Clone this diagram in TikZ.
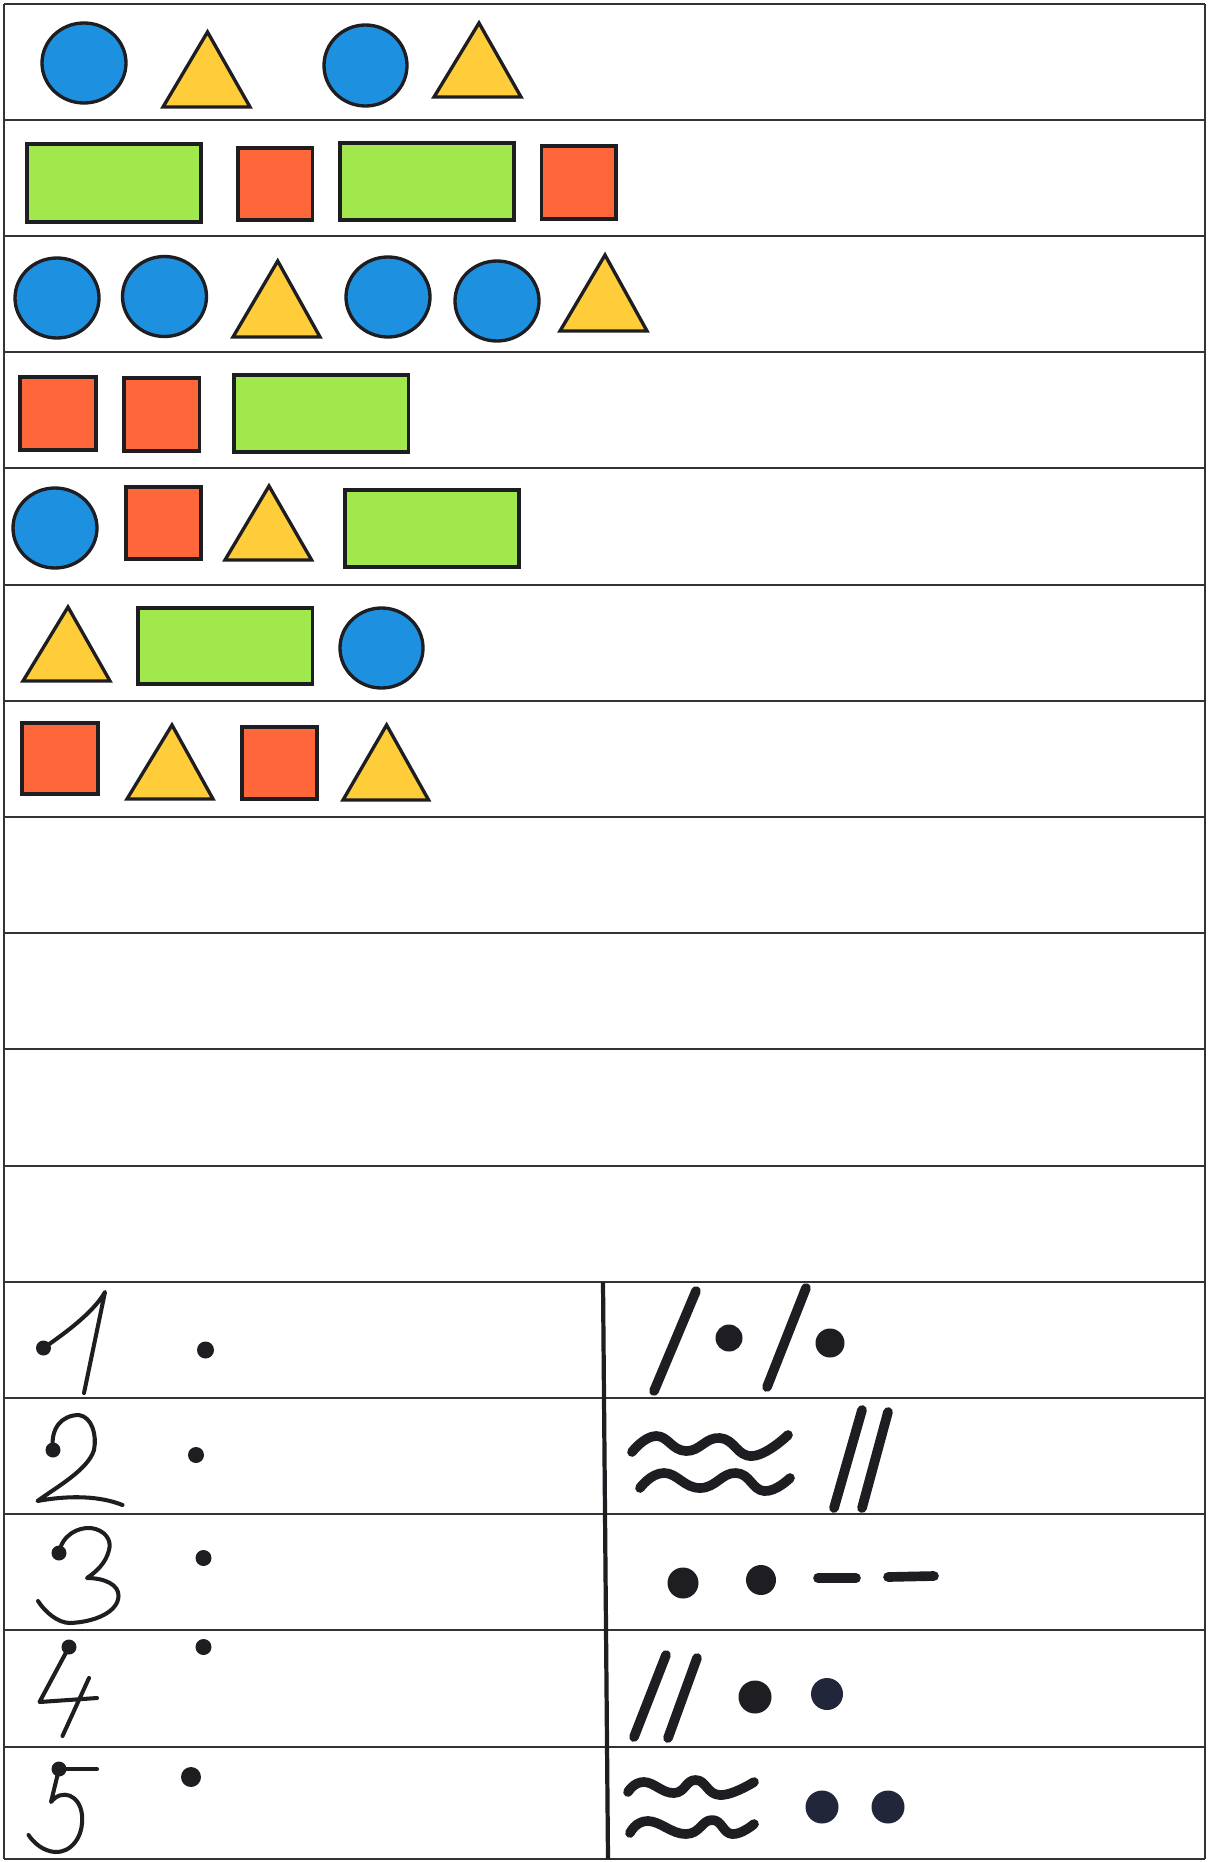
\documentclass[tikz,border=0pt]{standalone}
\usepackage{tikz}
\definecolor{shblue}{HTML}{1E90E0}
\definecolor{shyellow}{HTML}{FFCC3A}
\definecolor{shgreen}{HTML}{A0E84C}
\definecolor{shred}{HTML}{FF663A}
\definecolor{rule}{HTML}{333333}
\definecolor{ink}{HTML}{1E1E22}
\definecolor{inkb}{HTML}{22263A}
\tikzset{
  outl/.style={draw=ink,line width=1.9pt,line join=miter},
  bluesh/.style={outl,fill=shblue},
  yelsh/.style={outl,fill=shyellow},
  greensh/.style={outl,fill=shgreen},
  redsh/.style={outl,fill=shred},
  rowline/.style={draw=rule,line width=1.5pt},
  pen/.style={draw=ink,line width=2.3pt,line cap=round,line join=round},
  marker/.style={draw=ink,line width=5.5pt,line cap=round,line join=round},
}
\begin{document}
\begin{tikzpicture}[x=0.02cm,y=-0.02cm]
\useasboundingbox (0,0) rectangle (1208,1862);
\fill[white] (0,0) rectangle (1208,1862);
% ---- ruling
\foreach \yy in {4,120,236,352,468,585,701,817,933,1049,1166,1282,1398,1514,1630,1747}
  \draw[rowline] (4,\yy) -- (1205,\yy);
\draw[rowline] (4,1859) -- (1205,1859);
\draw[rowline] (4,4) -- (4,1859);
\draw[rowline] (1205,4) -- (1205,1859);
\draw[draw=ink,line width=2.4pt] (603,1282) -- (608,1859);
% ---- row 1
\draw[bluesh] (84,63) ellipse [x radius=42,y radius=40];
\draw[yelsh] (163,107) -- (207.5,32) -- (250,107) -- cycle;
\draw[bluesh] (365.5,65.5) ellipse [x radius=41.5,y radius=40.5];
\draw[yelsh] (434,97) -- (479,23) -- (521,97) -- cycle;
% ---- row 2
\draw[greensh] (27,144) rectangle (201,222);
\draw[redsh] (238,148) rectangle (312.5,220);
\draw[greensh] (340,143) rectangle (514,220);
\draw[redsh] (541.5,146) rectangle (616,219);
% ---- row 3
\draw[bluesh] (57,298) ellipse [x radius=42,y radius=40];
\draw[bluesh] (164.5,296.5) ellipse [x radius=42,y radius=40];
\draw[yelsh] (233,337) -- (277.7,261) -- (320,337) -- cycle;
\draw[bluesh] (388,297) ellipse [x radius=42,y radius=40];
\draw[bluesh] (497,301) ellipse [x radius=42,y radius=40];
\draw[yelsh] (560,331) -- (605,255) -- (647,331) -- cycle;
% ---- row 4
\draw[redsh] (20,377) rectangle (96,450);
\draw[redsh] (124,378) rectangle (199.5,451);
\draw[greensh] (234,375) rectangle (408.5,452);
% ---- row 5
\draw[bluesh] (55,528) ellipse [x radius=42,y radius=40];
\draw[redsh] (126,487) rectangle (201,559);
\draw[yelsh] (225,560) -- (269,486) -- (311.6,560) -- cycle;
\draw[greensh] (345,490) rectangle (519,567);
% ---- row 6
\draw[yelsh] (23,681) -- (68,607) -- (110,681) -- cycle;
\draw[greensh] (138,608) rectangle (312.5,684);
\draw[bluesh] (381.5,648) ellipse [x radius=41.5,y radius=40];
% ---- row 7
\draw[redsh] (22,723) rectangle (98,794);
\draw[yelsh] (127,799) -- (172,725) -- (213,799) -- cycle;
\draw[redsh] (242,727) rectangle (317,799);
\draw[yelsh] (343,800) -- (386.6,725) -- (428.6,800) -- cycle;
% ---- handwritten numbers
% 1
\draw[pen] (43.5,1348) .. controls (70,1330) and (95,1310) .. (105,1292) -- (84,1393);
\fill[ink] (43.5,1348) circle [radius=7.5];
\fill[ink] (205.5,1350) circle [radius=8.5];
% 2
\draw[pen] (53,1450) .. controls (50,1428) and (62,1415) .. (79,1415)
  .. controls (92,1417) and (97,1435) .. (94,1450)
  .. controls (88,1470) and (55,1488) .. (37.5,1501)
  .. controls (70,1495) and (100,1496) .. (122.5,1505);
\fill[ink] (53,1450) circle [radius=7.5];
\fill[ink] (196,1455) circle [radius=8];
% 3
\draw[pen] (59,1553) .. controls (62,1535) and (78,1527) .. (91,1528)
  .. controls (105,1530) and (112,1540) .. (109,1550)
  .. controls (106,1563) and (96,1572) .. (87,1578)
  .. controls (105,1578) and (119,1585) .. (118.5,1596)
  .. controls (118,1612) and (95,1622) .. (70,1623)
  .. controls (58,1623) and (45,1612) .. (38,1601);
\fill[ink] (59,1553) circle [radius=7.5];
\fill[ink] (203.5,1558) circle [radius=8];
% 4
\draw[pen] (69,1647) -- (39.5,1702) -- (97,1698);
\draw[pen] (89,1678) -- (62.5,1736);
\fill[ink] (69,1647) circle [radius=7.5];
\fill[ink] (203.5,1647) circle [radius=8];
% 5
\draw[pen] (59,1769) -- (97,1769);
\draw[pen] (59,1769) -- (51,1802)
  .. controls (62,1788) and (80,1795) .. (82,1815)
  .. controls (84,1838) and (70,1853) .. (55,1852)
  .. controls (43,1851) and (34,1843) .. (28.5,1835);
\fill[ink] (59,1769) circle [radius=7.5];
\fill[ink] (191,1777) circle [radius=10];
% ---- right column signs
% row 1
\draw[marker] (654,1391) -- (696,1291);
\fill[ink] (729,1338) circle [radius=13.5];
\draw[marker] (767,1387) -- (806,1288);
\fill[ink] (830,1343) circle [radius=14.5];
% row 2
\draw[marker] plot[smooth,tension=0.8] coordinates {(632,1452) (656,1436) (686,1451) (720,1438) (752,1456) (788,1435)};
\draw[marker] plot[smooth,tension=0.8] coordinates {(640,1488) (664,1473) (700,1488) (736,1473) (764,1491) (790,1478)};
\draw[marker] (834,1508) -- (862,1410);
\draw[marker] (862,1508) -- (888,1412);
% row 3
\fill[ink] (683,1583) circle [radius=15.5];
\fill[ink] (761,1580) circle [radius=15];
\draw[marker] (818,1578) -- (856,1578);
\draw[marker] (888,1577) -- (934,1576);
% row 4
\draw[marker] (634,1737) -- (666,1655);
\draw[marker] (668,1738) -- (697,1658);
\fill[ink] (755,1697) circle [radius=16.5];
\fill[inkb] (827,1694) circle [radius=16];
% row 5
\draw[marker] plot[smooth,tension=0.8] coordinates {(628,1792) (644,1782) (674,1793) (696,1780) (720,1795) (754,1782)};
\draw[marker] plot[smooth,tension=0.8] coordinates {(630,1833) (648,1821) (686,1834) (712,1820) (732,1834) (754,1824)};
\fill[inkb] (822,1807) circle [radius=16.5];
\fill[inkb] (888,1807) circle [radius=16.5];
\end{tikzpicture}
\end{document}
